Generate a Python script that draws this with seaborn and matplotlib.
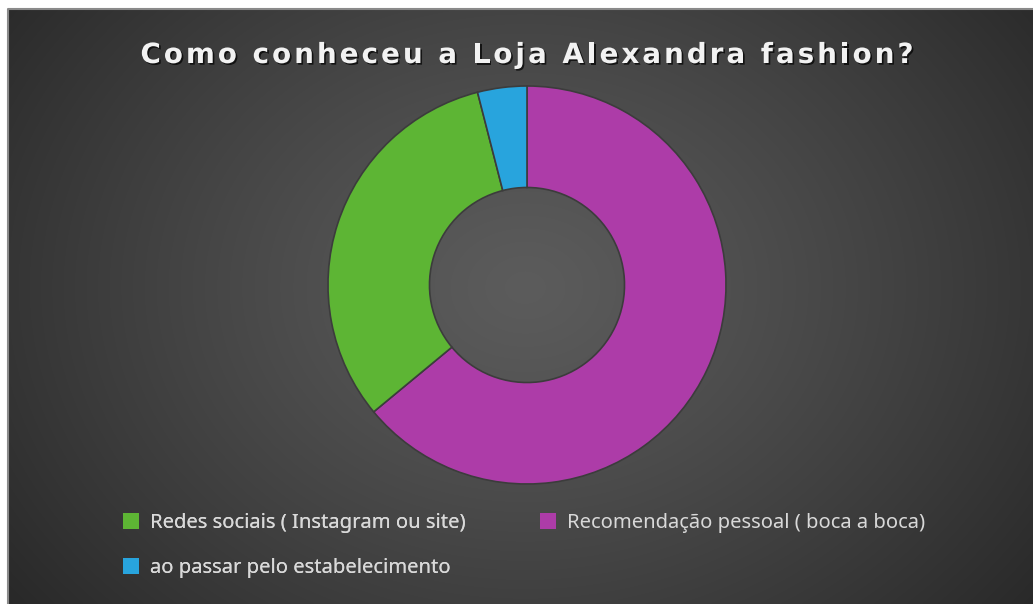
import numpy as np
import matplotlib
matplotlib.use("Agg")
import matplotlib.pyplot as plt
import matplotlib.patheffects as pe
from matplotlib.patches import Patch
import seaborn as sns

# Survey answers: how customers found the store
categories = [
    "Recomendação pessoal ( boca a boca)",
    "Redes sociais ( Instagram ou site)",
    "ao passar pelo estabelecimento",
]
counts = [16, 8, 1]
legend_left = [
    "Redes sociais ( Instagram ou site)",
    "ao passar pelo estabelecimento",
]
legend_right = ["Recomendação pessoal ( boca a boca)"]
title = "Como conheceu a Loja Alexandra fashion?"

sns.set_theme(style="dark")
plt.rcParams["font.family"] = ["DejaVu Sans"]

palette = dict(zip(categories, sns.color_palette(["#ad3ca8", "#5db534", "#28a4dd"])))

W, H = 1033, 604
fig = plt.figure(figsize=(W / 100, H / 100), dpi=100, facecolor="white")

# Dark chart area with a soft radial glow
bg = fig.add_axes([8 / W, 0, (W - 8) / W, (H - 9) / H])
yy, xx = np.mgrid[0:300, 0:520]
cx, cy = 262, 140
d = np.sqrt(((xx - cx) / 330.0) ** 2 + ((yy - cy) / 260.0) ** 2)
shade = 0.36 - 0.20 * np.clip(d, 0, 1) ** 1.2
img = np.dstack([shade, shade, shade])
bg.imshow(img, aspect="auto", extent=[0, 1, 0, 1], interpolation="bilinear")
bg.set_xlim(0, 1)
bg.set_ylim(0, 1)
bg.set_axis_off()
bg.plot([0, 0, 1], [0, 1, 1], color="#8a8a8a", lw=1.5, transform=bg.transAxes, clip_on=False)

# Donut
r_px = 199
cxp, cyp = 527, 285
half = 215
ax = fig.add_axes([(cxp - half) / W, (H - cyp - half) / H, 2 * half / W, 2 * half / H])
ax.set_facecolor("none")
wedges, _ = ax.pie(
    counts,
    colors=[palette[c] for c in categories],
    startangle=90,
    counterclock=False,
    radius=1.0,
    wedgeprops=dict(width=0.51, edgecolor="#3c3c3c", linewidth=1.2),
)
lim = half / r_px
ax.set_xlim(-lim, lim)
ax.set_ylim(-lim, lim)
ax.set_aspect("equal")
ax.set_axis_off()

# Letter-spaced title, laid out one glyph at a time
renderer = fig.canvas.get_renderer()
title_kw = dict(color="#f2f2f2", fontsize=20, fontweight="bold", va="center", ha="left",
                path_effects=[pe.withSimplePatchShadow(offset=(1.2, -1.2),
                                                       shadow_rgbFace="black", alpha=0.7)])
tracking = 3.0
widths = []
for ch in title:
    t = fig.text(0, 0, ch if ch != " " else "a a", **title_kw)
    w = t.get_window_extent(renderer).width
    if ch == " ":
        t2 = fig.text(0, 0, "aa", **title_kw)
        w = w - t2.get_window_extent(renderer).width
        t2.remove()
    t.remove()
    widths.append(w)
total = sum(widths) + tracking * (len(title) - 1)
x = cxp - total / 2
for ch, w in zip(title, widths):
    if ch != " ":
        fig.text(x / W, 1 - 55 / H, ch, **title_kw)
    x += w + tracking

leg_kw = dict(frameon=False, prop={"family": "Noto Sans", "size": 14.5}, labelcolor="#d9d9d9",
              handlelength=0.78, handleheight=0.85, handletextpad=0.55,
              labelspacing=1.25, borderaxespad=0, borderpad=0)
h_left = [Patch(facecolor=palette[c], edgecolor="none", label=c) for c in legend_left]
h_right = [Patch(facecolor=palette[c], edgecolor="none", label=c) for c in legend_right]
leg1 = fig.legend(handles=h_left, loc="upper left", bbox_to_anchor=(123 / W, 1 - 513 / H), **leg_kw)
fig.add_artist(leg1)
fig.legend(handles=h_right, loc="upper left", bbox_to_anchor=(540 / W, 1 - 513 / H), **leg_kw)

fig.savefig("out.png", dpi=100, facecolor="white")
